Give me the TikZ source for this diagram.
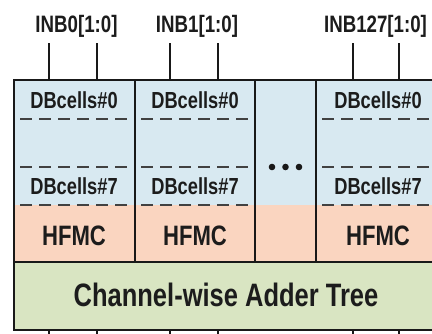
\documentclass[tikz,border=0pt]{standalone}
\usepackage{fontspec}
\usepackage{graphicx}
\setmainfont{Liberation Sans}
\definecolor{cellblue}{RGB}{216,233,241}
\definecolor{hfmcorange}{RGB}{250,213,192}
\definecolor{addergreen}{RGB}{217,229,194}
\definecolor{inkline}{RGB}{25,25,25}
\definecolor{dashgray}{RGB}{65,65,65}
\definecolor{txt}{RGB}{28,28,28}
\newcommand{\narrowtxt}[2]{{\fontsize{#1}{#1}\selectfont\bfseries\scalebox{0.85}[1.08]{#2}}}
\tikzset{
  frame/.style={draw=inkline, line width=2pt},
  sep/.style={draw=inkline, line width=1.8pt},
  rowdash/.style={draw=dashgray, line width=2.5pt, dash pattern=on 12pt off 7pt},
  wire/.style={draw=inkline, line width=1.8pt},
  lbl/.style={text=txt, inner sep=0pt, anchor=center},
  dot/.style={circle, fill=inkline, inner sep=0pt, minimum size=6.6pt}
}
\begin{document}
\begin{tikzpicture}[x=1pt,y=-1pt]
\useasboundingbox (0,0) rectangle (432,333);
\fill[white] (0,0) rectangle (432,333);
\clip (0,0) rectangle (432,333);

% coloured bands
\fill[cellblue]   (13.5,80)  rectangle (440,205);
\fill[hfmcorange] (13.5,205) rectangle (440,262);
\fill[addergreen] (13.5,262) rectangle (440,330);

% dashed row separators inside each column
\foreach \xl/\xr in {20/133, 141/253, 322/440} {
  \draw[rowdash] (\xl,119) -- (\xr,119);
  \draw[rowdash] (\xl,167) -- (\xr,167);
  \draw[rowdash] (\xl,205) -- (\xr,205);
}

% column separators and band border
\draw[sep] (135,80) -- (135,262);
\draw[sep] (255,80) -- (255,262);
\draw[sep] (316,80) -- (316,262);
\draw[sep] (13.5,262) -- (440,262);

% outer frame
\draw[frame] (440,80) -- (13.5,80) -- (13.5,330) -- (440,330);

% ellipsis column
\node[dot] (d1) at (272,167) {};
\node[dot] (d2) at (285.5,167) {};
\node[dot] (d3) at (299,167) {};

% input buses
\node[lbl] (inb0)   at (76.5,26) {\narrowtxt{22}{INB0[1:0]}};
\node[lbl] (inb1)   at (197,26)  {\narrowtxt{22}{INB1[1:0]}};
\node[lbl] (inb127) at (375.5,26){\narrowtxt{22}{INB127[1:0]}};

\foreach \n/\x in {a/49, b/97, c/170, d/218, e/353, f/399} {
  \coordinate (in\n) at (\x,43);
  \coordinate (top\n) at (\x,80);
  \coordinate (bot\n) at (\x,330);
  \coordinate (out\n) at (\x,345);
  \draw[wire] (in\n) -- (top\n);
  \draw[wire] (bot\n) -- (out\n);
}

% cell labels
\foreach \c/\x in {one/74, two/195, three/378} {
  \node[lbl] (db0\c)  at (\x,100) {\narrowtxt{21.5}{DBcells\#0}};
  \node[lbl] (db7\c)  at (\x,186) {\narrowtxt{21.5}{DBcells\#7}};
  \node[lbl] (hfmc\c) at (\x,236) {\narrowtxt{26}{HFMC}};
}

\node[lbl] (adder) at (226,295) {\narrowtxt{30}{Channel-wise Adder Tree}};
\end{tikzpicture}
\end{document}
